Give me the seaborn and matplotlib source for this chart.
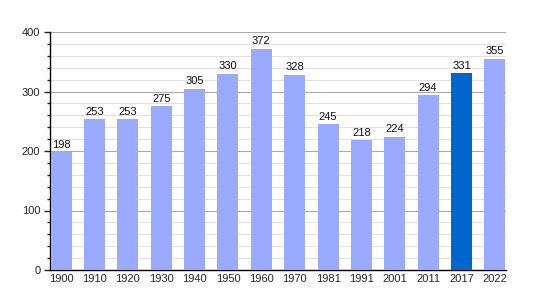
import matplotlib
matplotlib.use("Agg")
import matplotlib.pyplot as plt
import seaborn as sns
import pandas as pd
from matplotlib.ticker import MultipleLocator

years = ["1900", "1910", "1920", "1930", "1940", "1950", "1960", "1970",
         "1981", "1991", "2001", "2011", "2017", "2022"]
population = [198, 253, 253, 275, 305, 330, 372, 328, 245, 218, 224, 294, 331, 355]
highlight = ["no"] * 12 + ["yes", "no"]

df = pd.DataFrame({"year": years, "pop": population, "hl": highlight})

sns.set_style("white")
plt.rcParams["font.family"] = ["Liberation Sans", "DejaVu Sans"]

fig = plt.figure(figsize=(5.35, 3.0), dpi=100)
ax = fig.add_axes([50/535, 30/300, 456/535, 238/300])

sns.barplot(data=df, x="year", y="pop", hue="hl",
            palette={"no": "#99AAFF", "yes": "#0066CC"}, saturation=1,
            width=0.63, dodge=False, legend=False, ax=ax, zorder=3, linewidth=0)

for i, v in enumerate(population):
    ax.text(i, v + 4, str(v), ha="center", va="bottom", fontsize=8, color="#111111", zorder=4)

ax.set_ylim(0, 400)
ax.set_xlim(-0.335, 13.335)
ax.yaxis.set_major_locator(MultipleLocator(100))
ax.yaxis.set_minor_locator(MultipleLocator(20))
ax.grid(axis="y", which="major", color="#aaaaaa", linewidth=0.8, zorder=1)
ax.grid(axis="y", which="minor", color="#e2e2e2", linewidth=0.8, zorder=0)
ax.grid(axis="x", visible=False)
ax.set_axisbelow(True)

for s in ["top", "right"]:
    ax.spines[s].set_visible(False)
ax.spines["left"].set_color("black")
ax.spines["bottom"].set_color("black")
ax.spines["left"].set_linewidth(1)
ax.spines["bottom"].set_linewidth(1)

ax.tick_params(axis="y", which="major", direction="out", length=4, width=1, labelsize=8, left=True, pad=3)
ax.tick_params(axis="y", which="minor", direction="out", length=2, width=1, left=True)
ax.tick_params(axis="x", which="both", length=0, labelsize=8, pad=3)
ax.set_xlabel("")
ax.set_ylabel("")

fig.savefig("out.png", dpi=100)
